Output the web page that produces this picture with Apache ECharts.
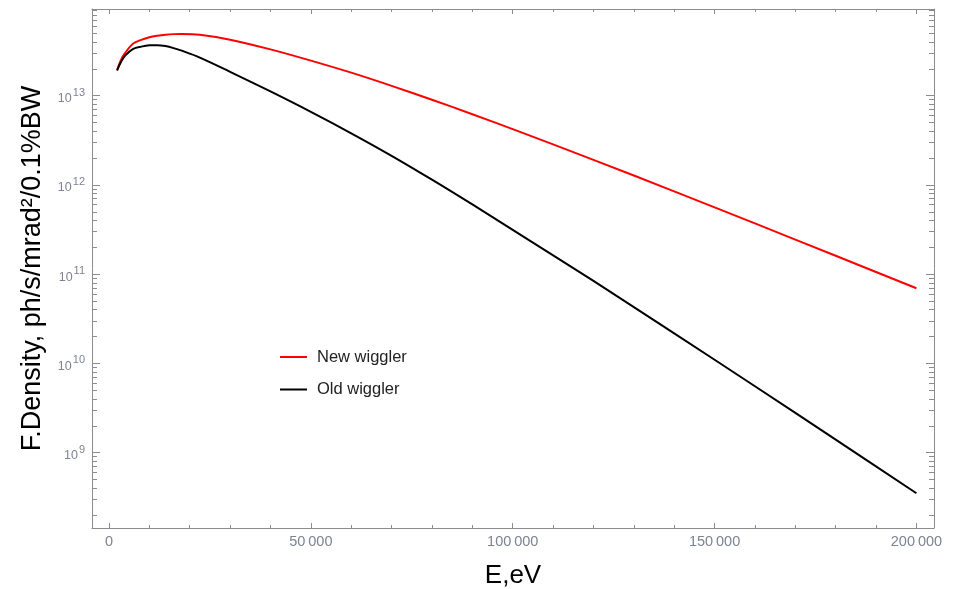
<!DOCTYPE html>
<html><head><meta charset="utf-8">
<script src="https://cdn.jsdelivr.net/npm/echarts@6/dist/echarts.min.js"></script>
<style>html,body{margin:0;padding:0;background:#fff}#c{width:953px;height:589px}</style>
</head><body><div id="c"></div>
<script>
// Photon energy, eV
const energy = [2000, 3000, 4000, 6000, 8000, 10000, 12000, 14000, 16000, 18000, 22500, 30000, 40000, 50000, 60000, 70000, 80000, 90000, 100000, 120000, 140000, 160000, 180000, 200000];
// Flux density, ph/s/mrad^2/0.1%BW
const newWiggler = [1.92e13, 2.53e13, 3.01e13, 3.83e13, 4.22e13, 4.52e13, 4.70e13, 4.82e13, 4.89e13, 4.91e13, 4.82e13, 4.24e13, 3.30e13, 2.47e13, 1.81e13, 1.288e13, 9.0e12, 6.19e12, 4.21e12, 1.91e12, 8.47e11, 3.70e11, 1.608e11, 6.95e10];
const oldWiggler = [1.92e13, 2.40e13, 2.81e13, 3.34e13, 3.54e13, 3.66e13, 3.68e13, 3.59e13, 3.41e13, 3.19e13, 2.67e13, 1.85e13, 1.114e13, 6.58e12, 3.79e12, 2.12e12, 1.145e12, 6.04e11, 3.13e11, 8.39e10, 2.17e10, 5.55e9, 1.40e9, 3.51e8];
const seriesNames = ['New wiggler', 'Old wiggler'];
const xTickLabels = [0, 50000, 100000, 150000, 200000];
const xMinorTicks = [10000, 20000, 30000, 40000, 60000, 70000, 80000, 90000, 110000, 120000, 130000, 140000, 160000, 170000, 180000, 190000];
const yTickLabels = [1e9, 1e10, 1e11, 1e12, 1e13];

const X_MIN = -4210, X_MAX = 204350;
const Y_MIN = 1.432e8, Y_MAX = 9.35e13;

const yMinorTicks = [];
for (let e = 8; e <= 13; e++) {
  for (let m = 2; m <= 9; m++) {
    const v = m * Math.pow(10, e);
    if (v >= Y_MIN && v <= Y_MAX) yMinorTicks.push(v);
  }
}

const FONT = "'Liberation Sans', Arial, sans-serif";
const AX = '#8c8c8c';
const LBL = '#7e8394';

function xAxisDef(pos, ticks, len, withLine, withLabels) {
  return {
    type: 'value', position: pos, min: X_MIN, max: X_MAX,
    axisLine: { show: withLine, onZero: false, lineStyle: { color: AX, width: 1 } },
    axisTick: { show: true, inside: true, length: len, customValues: ticks, lineStyle: { color: AX, width: 1 } },
    axisLabel: withLabels ? {
      show: true, customValues: ticks, margin: 6, color: LBL, fontSize: 14.5, fontFamily: FONT,
      formatter: v => String(v).replace(/(\d)(?=(\d{3})+$)/g, '$1\u2009')
    } : { show: false },
    splitLine: { show: false }
  };
}
function yAxisDef(pos, ticks, len, withLine, withLabels) {
  return {
    type: 'log', logBase: 10, position: pos, min: Y_MIN, max: Y_MAX,
    axisLine: { show: withLine, onZero: false, lineStyle: { color: AX, width: 1 } },
    axisTick: { show: true, inside: true, length: len, customValues: ticks, lineStyle: { color: AX, width: 1 } },
    axisLabel: withLabels ? {
      show: true, customValues: ticks, margin: 7, color: LBL, fontFamily: FONT,
      formatter: v => '{b|10}{s|' + Math.round(Math.log10(v)) + '}',
      rich: {
        b: { fontSize: 12.5, lineHeight: 13, padding: [6, 0, 0, 0], color: LBL, fontFamily: FONT },
        s: { fontSize: 11, lineHeight: 11, padding: [1, 0, 7, 1], color: LBL, fontFamily: FONT }
      }
    } : { show: false },
    splitLine: { show: false }
  };
}

const chart = echarts.init(document.getElementById('c'), null, { renderer: 'canvas' });
const xAxes = [
  Object.assign(xAxisDef('bottom', xTickLabels, 5, true, true), {
    name: 'E,eV', nameLocation: 'middle', nameGap: 35,
    nameTextStyle: { fontSize: 26, color: '#000', fontFamily: FONT }
  }),
  xAxisDef('bottom', xMinorTicks, 3, false, false),
  xAxisDef('top', xTickLabels, 5, true, false),
  xAxisDef('top', xMinorTicks, 3, false, false)
];
const yAxes = [
  Object.assign(yAxisDef('left', yTickLabels, 8, true, true), {
    name: 'F.Density, ph/s/mrad\u00B2/0.1%BW', nameLocation: 'middle', nameGap: 46,
    nameTextStyle: { fontSize: 27, color: '#000', fontFamily: FONT }
  }),
  yAxisDef('left', yMinorTicks, 5, false, false),
  yAxisDef('right', yTickLabels, 8, true, false),
  yAxisDef('right', yMinorTicks, 5, false, false)
];

chart.setOption({
  animation: false,
  backgroundColor: '#fff',
  grid: { left: 92, top: 9, right: 19, bottom: 61, containLabel: false, outerBoundsMode: 'none' },
  xAxis: xAxes,
  yAxis: yAxes,
  legend: {
    orient: 'vertical', left: 280, top: 348.5, padding: 0, itemWidth: 27, itemHeight: 2, itemGap: 15.5,
    icon: 'rect',
    textStyle: { fontSize: 16.5, color: '#222', fontFamily: FONT, padding: [0, 0, 0, 5] },
    data: seriesNames
  },
  series: [
    {
      name: seriesNames[0], type: 'line', xAxisIndex: 0, yAxisIndex: 0,
      data: energy.map((e, i) => [e, newWiggler[i]]),
      smooth: 0.35, showSymbol: false, symbol: 'none',
      color: '#ff0000', lineStyle: { color: '#ff0000', width: 2 }
    },
    {
      name: seriesNames[1], type: 'line', xAxisIndex: 0, yAxisIndex: 0,
      data: energy.map((e, i) => [e, oldWiggler[i]]),
      smooth: 0.35, showSymbol: false, symbol: 'none',
      color: '#000000', lineStyle: { color: '#000000', width: 2 }
    }
  ]
});
</script></body></html>
